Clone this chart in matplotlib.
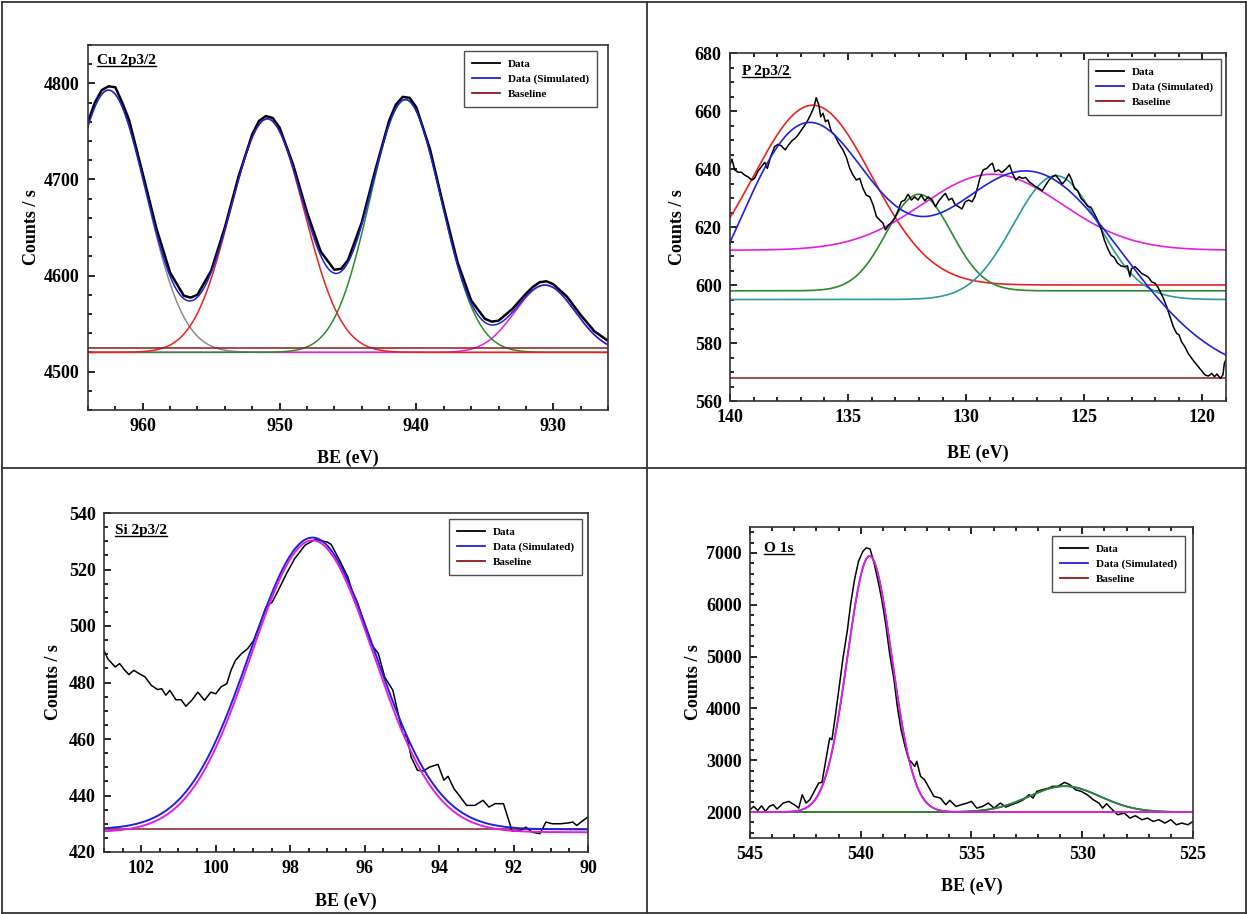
import matplotlib
matplotlib.use("Agg")
import matplotlib.pyplot as plt
import numpy as np
from matplotlib.lines import Line2D
from matplotlib.ticker import MultipleLocator

plt.rcParams['font.family'] = ['Liberation Serif', 'DejaVu Serif']
plt.rcParams['font.weight'] = 'bold'
plt.rcParams['axes.labelweight'] = 'bold'

# 데이터
# Cu 2p3/2 측정값
cu_be = [964, 963.5, 963, 962.5, 962, 961.5, 961, 960, 959, 958,
         957, 956.5, 956, 955, 954, 953, 952, 951.5, 951, 950.5,
         950, 949, 948, 947, 946, 945.5, 945, 944, 943, 942,
         941.5, 941, 940.5, 940, 939, 938, 937, 936, 935, 934.5,
         934, 933, 932, 931.5, 931, 930.5, 930, 929, 928, 927, 926]
cu_counts = [4760, 4780, 4793, 4797, 4796, 4780, 4762, 4706, 4649, 4603,
             4579, 4577, 4580, 4605, 4650, 4703, 4747, 4761, 4766, 4764,
             4754, 4715, 4666, 4625, 4606, 4607, 4616, 4655, 4710, 4761,
             4778, 4786, 4785, 4775, 4731, 4671, 4614, 4574, 4555, 4552,
             4553, 4565, 4581, 4588, 4593, 4594, 4591, 4578, 4559, 4542, 4532]
# Cu 피크 성분: 중심, 높이, 폭(sigma)
cu_center = [962.5, 950.9, 940.8, 930.6]
cu_height = [273, 243, 263, 70]
cu_sigma = [2.75, 2.7, 2.6, 2.2]
cu_colors = ['#8c8c8c', '#e8231f', '#2a8a2a', '#e020e0']
cu_offset = 4520
cu_baseline = 4525

# P 2p3/2 측정값
p_be = [140.0, 139.92, 139.8, 139.66, 139.52, 139.38, 139.24, 139.07, 138.96, 138.81,
        138.67, 138.53, 138.42, 138.28, 138.11, 137.97, 137.83, 137.66, 137.52, 137.38,
        137.24, 137.12, 136.98, 136.81, 136.7, 136.56, 136.44, 136.35, 136.24, 136.16,
        136.06, 135.96, 135.85, 135.71, 135.57, 135.4, 135.22, 135.08, 134.93, 134.79,
        134.65, 134.51, 134.37, 134.23, 134.08, 133.94, 133.8, 133.66, 133.52, 133.42,
        133.28, 133.14, 133.03, 132.89, 132.75, 132.6, 132.46, 132.32, 132.18, 132.04,
        131.9, 131.75, 131.61, 131.44, 131.3, 131.16, 131.02, 130.88, 130.74, 130.6,
        130.46, 130.32, 130.18, 130.04, 129.9, 129.75, 129.63, 129.51, 129.42, 129.28,
        129.13, 128.99, 128.89, 128.78, 128.63, 128.5, 128.33, 128.16, 128.04, 127.9,
        127.76, 127.62, 127.48, 127.34, 127.2, 127.06, 126.92, 126.78, 126.63, 126.49,
        126.35, 126.21, 126.07, 125.93, 125.79, 125.65, 125.53, 125.42, 125.28, 125.14,
        125.0, 124.86, 124.72, 124.58, 124.44, 124.29, 124.15, 124.01, 123.87, 123.73,
        123.59, 123.45, 123.31, 123.17, 123.07, 123.0, 122.85, 122.71, 122.57, 122.43,
        122.29, 122.15, 122.0, 121.86, 121.75, 121.65, 121.51, 121.37, 121.23, 121.09,
        120.99, 120.88, 120.74, 120.6, 120.45, 120.31, 120.17, 120.03, 119.89, 119.75,
        119.6, 119.49, 119.38, 119.24, 119.13, 119.07, 119.01]
p_counts = [641.4, 643.4, 639.7, 638.9, 638.9, 637.9, 637.3, 636.2, 636.8, 639.3,
            640.8, 642.3, 640.2, 644.2, 647.7, 648.5, 648.0, 646.6, 648.3, 649.7,
            650.6, 651.7, 653.4, 655.4, 656.9, 659.2, 661.5, 664.6, 662.1, 658.0,
            659.2, 656.3, 656.9, 652.9, 651.7, 648.9, 646.6, 644.2, 640.2, 637.9,
            636.2, 636.8, 633.3, 631.0, 630.4, 627.6, 623.6, 622.4, 621.3, 619.0,
            620.7, 621.8, 623.0, 625.5, 628.7, 629.3, 631.3, 629.3, 630.4, 629.3,
            631.0, 629.0, 630.4, 629.3, 627.0, 629.0, 630.4, 631.6, 629.3, 629.9,
            627.6, 627.0, 626.2, 628.7, 629.3, 628.7, 630.5, 633.9, 636.8, 639.7,
            640.2, 641.4, 642.0, 639.1, 639.7, 638.8, 639.9, 641.4, 638.5, 636.2,
            637.3, 636.8, 637.1, 635.6, 634.8, 633.9, 633.3, 632.5, 634.5, 636.2,
            637.3, 637.9, 636.4, 634.8, 636.2, 638.3, 636.2, 633.3, 632.5, 629.9,
            628.7, 627.2, 626.8, 624.7, 622.4, 619.5, 615.5, 612.6, 610.3, 609.5,
            607.5, 606.6, 606.3, 606.6, 602.9, 605.7, 606.3, 605.2, 604.0, 603.4,
            602.7, 601.1, 600.6, 598.9, 597.1, 595.4, 592.5, 589.1, 585.6, 583.3,
            582.8, 580.4, 578.7, 576.4, 574.7, 573.2, 571.8, 570.4, 569.0, 568.6,
            569.5, 568.4, 569.3, 567.8, 569.0, 573.0, 574.1]
# P 피크 성분: 중심, 높이, 폭, 바닥값
p_center = [136.5, 132.0, 128.9, 126.2]
p_height = [62, 33.3, 26.2, 42.7]
p_sigma = [2.5, 1.37, 2.95, 1.8]
p_offset = [600, 598, 612, 595]
p_colors = ['#e8231f', '#2a8a2a', '#e020e0', '#2a9a9a']
# P 시뮬레이션 (두 개 피크)
p_sim_center = [136.9, 127.4]
p_sim_height = [83.5, 71]
p_sim_sigma = [2.85, 4.0]
p_baseline = 568

# Si 2p3/2 측정값
si_be = [103.0, 102.9, 102.7, 102.58, 102.44, 102.33, 102.2, 102.05, 101.9, 101.73,
         101.56, 101.45, 101.34, 101.23, 101.07, 100.93, 100.8, 100.63, 100.48, 100.3,
         100.13, 100.0, 99.86, 99.7, 99.59, 99.47, 99.31, 99.14, 98.98, 98.76,
         98.65, 98.48, 98.32, 98.1, 97.88, 97.6, 97.33, 97.0, 96.9, 96.67,
         96.45, 96.34, 96.18, 95.96, 95.8, 95.63, 95.46, 95.24, 95.08, 94.97,
         94.86, 94.75, 94.58, 94.42, 94.25, 94.03, 93.92, 93.87, 93.76, 93.6,
         93.43, 93.26, 93.04, 92.82, 92.66, 92.5, 92.27, 92.1, 92.04, 91.8,
         91.67, 91.5, 91.29, 91.13, 90.96, 90.74, 90.52, 90.41, 90.3, 90.13, 90.0]
si_counts = [491.4, 488.4, 485.5, 486.7, 484.3, 482.8, 484.3, 483.1, 482.0, 479.0,
             477.5, 477.8, 475.5, 477.2, 473.9, 473.9, 471.6, 473.9, 476.6, 473.7,
             476.6, 476.0, 478.4, 479.6, 484.3, 487.8, 490.2, 492.0, 494.9, 502.6,
             506.7, 508.5, 512.6, 518.5, 523.8, 528.6, 530.6, 529.7, 528.9, 523.2,
             517.3, 512.6, 507.9, 498.5, 493.2, 490.2, 481.9, 477.2, 467.8, 461.9,
             460.7, 453.6, 448.9, 448.7, 450.1, 451.0, 447.1, 445.4, 446.8, 442.4,
             439.5, 436.5, 436.5, 438.3, 435.9, 437.1, 437.1, 430.0, 427.4, 427.7,
             428.8, 427.0, 426.5, 430.6, 430.0, 430.0, 430.3, 430.6, 429.4, 431.2, 432.4]
si_center = 97.4
si_sim_height, si_sim_sigma, si_sim_offset = 103.3, 1.68, 428
si_fit_height, si_fit_sigma, si_fit_offset = 103.3, 1.65, 427
si_baseline = 428

# O 1s 측정값
o_be = [545.0, 544.83, 544.65, 544.48, 544.3, 544.13, 543.95, 543.78, 543.5, 543.25,
        543.0, 542.8, 542.64, 542.47, 542.3, 542.1, 541.9, 541.75, 541.6, 541.4,
        541.3, 541.15, 540.97, 540.8, 540.6, 540.45, 540.28, 540.1, 539.9, 539.75,
        539.58, 539.4, 539.2, 539.05, 538.88, 538.7, 538.5, 538.35, 538.18, 538.0,
        537.83, 537.74, 537.56, 537.47, 537.3, 537.12, 536.95, 536.7, 536.4, 536.16,
        535.98, 535.7, 535.46, 535.2, 535.0, 534.76, 534.5, 534.24, 533.98, 533.7,
        533.45, 533.2, 532.9, 532.66, 532.4, 532.22, 532.05, 531.8, 531.5, 531.35,
        531.1, 530.8, 530.56, 530.3, 530.04, 529.78, 529.5, 529.25, 529.08, 528.9,
        528.64, 528.4, 528.1, 527.85, 527.6, 527.3, 527.06, 526.8, 526.54, 526.27,
        526.0, 525.75, 525.5, 525.23, 525.0]
o_counts = [2045, 2109, 2032, 2122, 2013, 2109, 2142, 2058, 2174, 2206,
            2142, 2077, 2335, 2174, 2238, 2399, 2560, 2573, 2946, 3429,
            3396, 3847, 4426, 4973, 5520, 6035, 6485, 6839, 7032, 7097,
            7077, 6807, 6421, 6099, 5649, 5069, 4555, 4040, 3589, 3268,
            3010, 2978, 2882, 2978, 2689, 2624, 2496, 2303, 2270, 2142,
            2226, 2109, 2142, 2174, 2206, 2077, 2109, 2174, 2077, 2174,
            2096, 2142, 2187, 2238, 2335, 2270, 2399, 2431, 2463, 2496,
            2496, 2573, 2528, 2431, 2399, 2335, 2238, 2174, 2077, 2161,
            2045, 1949, 1981, 1884, 1929, 1852, 1884, 1820, 1852, 1788,
            1852, 1755, 1788, 1755, 1820]
o_center = [539.6, 530.8]
o_height = [4940, 500]
o_sigma = [1.0, 1.6]
o_colors = ['#e020e0', '#2a8a2a']
o_offset = 2000
o_baseline = 2000

BLUE = '#2020e0'
BASE = '#8b1a1a'


def gauss(x, c, a, s):
    return a * np.exp(-(x - c) ** 2 / (2 * s ** 2))


W, H = 1247, 914
fig = plt.figure(figsize=(W / 100, H / 100), dpi=100)


def make_axes(left, top, right, bottom):
    return fig.add_axes([left / W, 1 - bottom / H, (right - left) / W, (bottom - top) / H])


def style_axes(ax, xlim, ylim, xmaj, xmin, ymaj, ymin, top_ticks):
    ax.set_xlim(*xlim)
    ax.set_ylim(*ylim)
    ax.xaxis.set_major_locator(MultipleLocator(xmaj))
    ax.xaxis.set_minor_locator(MultipleLocator(xmin))
    ax.yaxis.set_major_locator(MultipleLocator(ymaj))
    ax.yaxis.set_minor_locator(MultipleLocator(ymin))
    ax.tick_params(which='both', direction='in', top=top_ticks, right=False,
                   width=1.2, labelsize=13, pad=6)
    ax.tick_params(which='major', length=5)
    ax.tick_params(which='minor', length=3)
    for s in ax.spines.values():
        s.set_linewidth(1.2)
        s.set_color('#333333')


def add_legend(ax, x, y):
    handles = [Line2D([], [], color='black', lw=1.3),
               Line2D([], [], color=BLUE, lw=1.3),
               Line2D([], [], color=BASE, lw=1.3)]
    leg = ax.legend(handles, ['Data', 'Data (Simulated)', 'Baseline'],
                    loc='upper right', bbox_to_anchor=(x, y), borderaxespad=0,
                    prop={'size': 8, 'weight': 'bold'}, fancybox=False,
                    handlelength=2.5, handletextpad=0.7, labelspacing=0.45,
                    borderpad=0.75)
    leg.get_frame().set_edgecolor('#222222')
    leg.get_frame().set_linewidth(1.0)


titles = []

# 1) Cu 2p3/2
ax1 = make_axes(88, 45, 608, 410)
xs = np.linspace(964, 926, 600)
sim = np.full_like(xs, cu_offset, dtype=float)
order = [0, 3, 2, 1]
for i in order:
    comp = gauss(xs, cu_center[i], cu_height[i], cu_sigma[i])
    sim += comp
    ax1.plot(xs, cu_offset + comp, color=cu_colors[i], lw=1.1)
ax1.axhline(cu_baseline, color=BASE, lw=1.1)
ax1.plot(cu_be, cu_counts, color='black', lw=1.8)
ax1.plot(xs, sim, color=BLUE, lw=1.1)
style_axes(ax1, (964, 926), (4460, 4840), 10, 2, 100, 20, False)
ax1.set_xlabel('BE (eV)', fontsize=13, labelpad=10)
ax1.set_ylabel('Counts / s', fontsize=13, labelpad=3)
titles.append(ax1.text(0.017, 0.975, 'Cu 2p3/2', transform=ax1.transAxes,
                       fontsize=11, va='top', ha='left'))
add_legend(ax1, 0.979, 0.984)

# 2) P 2p3/2
ax2 = make_axes(730, 53, 1226, 401)
xs = np.linspace(140, 119, 600)
for c, a, s, off, col in zip(p_center, p_height, p_sigma, p_offset, p_colors):
    ax2.plot(xs, off + gauss(xs, c, a, s), color=col, lw=1.2)
ax2.axhline(p_baseline, color=BASE, lw=1.1)
ax2.plot(p_be, p_counts, color='black', lw=1.1)
p_sim = p_baseline + sum(gauss(xs, c, a, s) for c, a, s in
                         zip(p_sim_center, p_sim_height, p_sim_sigma))
ax2.plot(xs, p_sim, color=BLUE, lw=1.2)
style_axes(ax2, (140, 119), (560, 680), 5, 1, 20, 5, True)
ax2.set_xlabel('BE (eV)', fontsize=13, labelpad=13)
ax2.set_ylabel('Counts / s', fontsize=13, labelpad=6)
titles.append(ax2.text(0.024, 0.965, 'P 2p3/2', transform=ax2.transAxes,
                       fontsize=11, va='top', ha='left'))
add_legend(ax2, 0.99, 0.983)

# 3) Si 2p3/2
ax3 = make_axes(104, 513, 588, 852)
xs = np.linspace(103, 90, 600)
ax3.axhline(si_baseline, color=BASE, lw=1.1)
ax3.plot(si_be, si_counts, color='black', lw=1.1)
ax3.plot(xs, si_sim_offset + gauss(xs, si_center, si_sim_height, si_sim_sigma),
         color=BLUE, lw=1.4)
ax3.plot(xs, si_fit_offset + gauss(xs, si_center, si_fit_height, si_fit_sigma),
         color='#e020e0', lw=1.4)
style_axes(ax3, (103, 90), (420, 540), 2, 0.5, 20, 5, False)
ax3.set_xlabel('BE (eV)', fontsize=13, labelpad=11)
ax3.set_ylabel('Counts / s', fontsize=13, labelpad=5)
titles.append(ax3.text(0.023, 0.968, 'Si 2p3/2', transform=ax3.transAxes,
                       fontsize=11, va='top', ha='left'))
add_legend(ax3, 0.988, 0.982)

# 4) O 1s
ax4 = make_axes(750, 527, 1193, 838)
xs = np.linspace(545, 525, 800)
o_sim = o_offset + sum(gauss(xs, c, a, s) for c, a, s in zip(o_center, o_height, o_sigma))
ax4.plot(xs, o_sim, color=BLUE, lw=1.2)
ax4.axhline(o_baseline, color=BASE, lw=1.1)
ax4.plot(o_be, o_counts, color='black', lw=1.1)
for i in [1, 0]:
    ax4.plot(xs, o_offset + gauss(xs, o_center[i], o_height[i], o_sigma[i]),
             color=o_colors[i], lw=1.3)
style_axes(ax4, (545, 525), (1500, 7500), 5, 1, 1000, 200, True)
ax4.set_xlabel('BE (eV)', fontsize=13, labelpad=10)
ax4.set_ylabel('Counts / s', fontsize=13, labelpad=3)
titles.append(ax4.text(0.032, 0.952, 'O 1s', transform=ax4.transAxes,
                       fontsize=11, va='top', ha='left'))
add_legend(ax4, 0.982, 0.971)

# 제목 밑줄
fig.canvas.draw()
for t in titles:
    bb = t.get_window_extent()
    yline = (bb.y0 + 1) / H
    fig.add_artist(Line2D([bb.x0 / W, bb.x1 / W], [yline, yline],
                          transform=fig.transFigure, color='black', lw=1.0))

# 표 테두리
edge = '#333333'
for xa, ya, xb, yb in [(1.5, 1.5, 1245.5, 1.5), (1.5, 912.5, 1245.5, 912.5),
                       (1.5, 1.5, 1.5, 912.5), (1245.5, 1.5, 1245.5, 912.5),
                       (647, 1.5, 647, 912.5), (1.5, 467.5, 1245.5, 467.5)]:
    fig.add_artist(Line2D([xa / W, xb / W], [1 - ya / H, 1 - yb / H],
                          transform=fig.transFigure, color=edge, lw=1.3))

fig.savefig('out.png', dpi=100)
